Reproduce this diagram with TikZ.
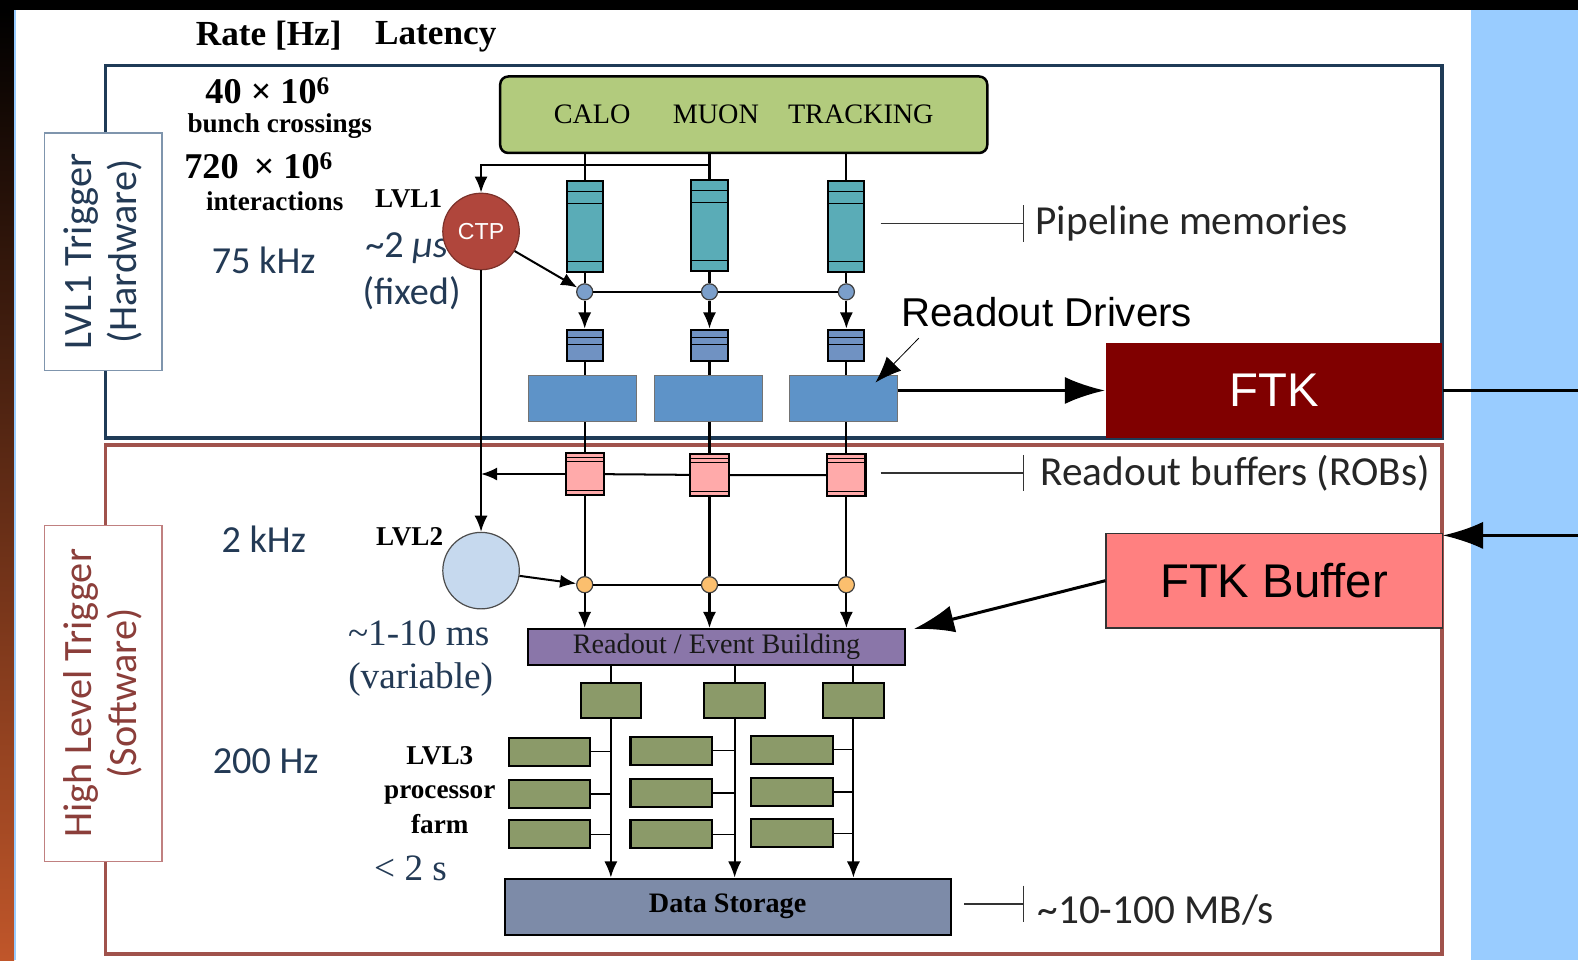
\documentclass[tikz,border=0pt]{standalone}
\usepackage{fontspec}
\setmainfont{Liberation Serif}
\newfontfamily\calfont{Carlito}
\newfontfamily\arialfont{Liberation Sans}
\usetikzlibrary{positioning,arrows.meta,calc}

\definecolor{navyframe}{RGB}{31,59,87}
\definecolor{hltframe}{RGB}{160,82,76}
\definecolor{lvlonebox}{RGB}{127,149,173}
\definecolor{hltbox}{RGB}{192,128,128}
\definecolor{hlttext}{RGB}{139,62,58}
\definecolor{navytext}{RGB}{35,58,85}
\definecolor{detgreen}{RGB}{178,203,125}
\definecolor{pipeteal}{RGB}{90,172,183}
\definecolor{nodeblue}{RGB}{123,159,203}
\definecolor{derandblue}{RGB}{112,146,194}
\definecolor{rodblue}{RGB}{94,147,200}
\definecolor{robpink}{RGB}{255,170,170}
\definecolor{nodeorange}{RGB}{251,191,110}
\definecolor{lvltwoblue}{RGB}{198,217,238}
\definecolor{ctpred}{RGB}{176,70,60}
\definecolor{ebpurple}{RGB}{138,118,169}
\definecolor{farmgreen}{RGB}{139,154,105}
\definecolor{storeslate}{RGB}{125,139,168}
\definecolor{ftkred}{RGB}{128,0,0}
\definecolor{ftkbuf}{RGB}{255,128,128}
\definecolor{stripblue}{RGB}{153,204,255}
\definecolor{edgeorange}{RGB}{192,86,42}

\begin{document}
\begin{tikzpicture}[x=1pt, y=-1pt, line width=2pt, inner sep=0pt,
  >={Latex[length=16pt,width=13pt]},
  bigarrow/.style={-{Latex[length=40pt,width=27pt]}, line width=3pt},
  sidebox/.style={rectangle, draw, fill=white, line width=1.5pt, rotate=90,
                  align=center, minimum width=#1, minimum height=117pt,
                  font=\calfont\fontsize{40}{45}\selectfont},
  detector/.style={rectangle, draw, rounded corners=8pt, line width=2.5pt,
                   fill=detgreen, minimum width=484pt, minimum height=76pt,
                   font=\fontsize{28}{32}\selectfont},
  pipemem/.style={rectangle, draw, fill=pipeteal, minimum width=36pt, minimum height=90pt,
    path picture={\draw[line width=1.2pt]
      ([yshift=-10pt]path picture bounding box.north west) -- ([yshift=-10pt]path picture bounding box.north east)
      ([yshift=-22pt]path picture bounding box.north west) -- ([yshift=-22pt]path picture bounding box.north east)
      ([yshift=10pt]path picture bounding box.south west) -- ([yshift=10pt]path picture bounding box.south east);}},
  derand/.style={rectangle, draw, fill=derandblue, minimum width=36pt, minimum height=31pt,
    path picture={\draw[line width=1.2pt]
      ([yshift=-8pt]path picture bounding box.north west) -- ([yshift=-8pt]path picture bounding box.north east)
      ([yshift=-15pt]path picture bounding box.north west) -- ([yshift=-15pt]path picture bounding box.north east);}},
  rod/.style={rectangle, draw=black!55, line width=1pt, fill=rodblue,
              minimum width=107pt, minimum height=46pt},
  rob/.style={rectangle, draw, fill=robpink, minimum width=38pt, minimum height=42pt,
    path picture={\draw[line width=1pt]
      ([yshift=-5pt]path picture bounding box.north west) -- ([yshift=-5pt]path picture bounding box.north east)
      ([yshift=-9pt]path picture bounding box.north west) -- ([yshift=-9pt]path picture bounding box.north east)
      ([yshift=5pt]path picture bounding box.south west) -- ([yshift=5pt]path picture bounding box.south east);}},
  junction/.style={circle, draw=black!75, line width=1.2pt, minimum size=16pt},
  trigger/.style={circle, line width=1.2pt, minimum size=76pt},
  eventbuild/.style={rectangle, draw, fill=ebpurple, minimum width=374pt, minimum height=36pt,
                     font=\fontsize{28}{32}\selectfont, text=black!90},
  sfi/.style={rectangle, draw, fill=farmgreen, minimum width=60pt, minimum height=35pt},
  farm/.style={rectangle, draw, fill=farmgreen, minimum width=81pt, minimum height=28pt},
  store/.style={rectangle, draw, fill=storeslate, minimum width=443pt, minimum height=56pt,
                font=\bfseries\fontsize{28}{32}\selectfont},
  ftkbox/.style={rectangle, minimum width=334pt, minimum height=94pt,
                 font=\arialfont\fontsize{47}{52}\selectfont},
  headtext/.style={font=\bfseries\fontsize{35}{40}\selectfont},
  bigrate/.style={font=\bfseries\fontsize{36}{40}\selectfont},
  smalltext/.style={font=\bfseries\fontsize{27}{34}\selectfont, align=center},
  calnote/.style={font=\calfont\fontsize{38}{44}\selectfont, text=navytext},
  serifnote/.style={font=\fontsize{37}{42}\selectfont, text=navytext},
  annotext/.style={font=\calfont\fontsize{41}{46}\selectfont, text=black!85},
  leader/.style={line width=1.6pt, black!80}
]
  \useasboundingbox (0,0) rectangle (1568,954);

  % background
  \fill[black] (0,0) rectangle (1568,10);
  \shade[top color=black, middle color={rgb,255:red,90;green,42;blue,18}, bottom color=edgeorange]
    (0,10) rectangle (14,954);
  \fill[white] (14,10) rectangle (1462,954);
  \draw[stripblue, line width=1.5pt] (14.75,10) -- (14.75,954);
  \fill[stripblue] (1462,10) rectangle (1568,954);

  % trigger level frames
  \draw[navyframe, line width=3.5pt] (105,65) rectangle (1433,435);
  \draw[hltframe, line width=3.5pt] (105,442) rectangle (1433,948);
  \node[sidebox=236pt, draw=lvlonebox, text=navytext] (lvlonelabel) at (102.5,250) {LVL1 Trigger\\(Hardware)};
  \node[sidebox=334pt, draw=hltbox, text=hlttext] (hltlabel) at (102.5,689) {High Level Trigger\\(Software)};

  % rates and latencies
  \node[headtext] (ratehdr) at (267,35) {Rate [Hz]};
  \node[headtext] (lathdr) at (433,37) {Latency};
  \node[bigrate] (bcrate) at (266,90) {40 × 10\textsuperscript{6}};
  \node[smalltext] (bclabel) at (278,125) {bunch crossings};
  \node[bigrate] (intrate) at (257,165) {720 \,× 10\textsuperscript{6}};
  \node[smalltext] (intlabel) at (273,200) {interactions};
  \node[smalltext] (lvlonetxt) at (406,197) {LVL1};
  \node[calnote] (rateone) at (262,259) {75 kHz};
  \node[calnote, anchor=west] (latone) at (362,247) {\textasciitilde2 \textit{μs}};
  \node[calnote] (latonefix) at (409,291) {(fixed)};
  \node[calnote] (ratetwo) at (262,536) {2 kHz};
  \node[smalltext] (lvltwotxt) at (407,533) {LVL2};
  \node[serifnote] (lattwo) at (416,629) {\textasciitilde1-10 ms};
  \node[serifnote] (lattwovar) at (418,675) {(variable)};
  \node[calnote] (ratethree) at (264,756) {200 Hz};
  \node[smalltext] (lvlthreetxt) at (437,785) {LVL3\\processor\\farm};
  \node[serifnote] (latthree) at (408,863) {< 2 s};

  % LVL1 chain
  \node[detector] (det) at (739,114) {CALO\hspace{42pt}MUON\hspace{29pt}TRACKING};
  \node[pipemem] (pm1) at (581,225) {};
  \node[pipemem] (pm2) at (705,224) {};
  \node[pipemem] (pm3) at (841,225) {};
  \node[trigger, fill=ctpred, draw=ctpred!70!black, text=white,
        font=\arialfont\fontsize{23}{26}\selectfont] (ctp) at (478,230) {CTP};
  \node[junction, fill=nodeblue] (jone1) at (581,290) {};
  \node[junction, fill=nodeblue] (jone2) at (705,290) {};
  \node[junction, fill=nodeblue] (jone3) at (841,290) {};
  \node[derand] (dr1) at (581,343) {};
  \node[derand] (dr2) at (705,343) {};
  \node[derand] (dr3) at (841,343) {};
  \node[rod] (rod1) at (579,396) {};
  \node[rod] (rod2) at (704,396) {};
  \node[rod] (rod3) at (838,396) {};
  \node[rob] (rob1) at (581,471) {};
  \node[rob] (rob2) at (705,472) {};
  \node[rob] (rob3) at (841,472) {};

  \coordinate (ctptap) at (705,164);
  \draw (det.south -| pm1) -- (pm1);
  \draw (det.south -| pm2) -- (pm2);
  \draw (det.south -| pm3) -- (pm3);
  \draw[->] (ctptap) -| (ctp);
  \draw[->] (ctp) -- (jone1);
  \draw (pm1) -- (jone1);
  \draw (pm2) -- (jone2);
  \draw (pm3) -- (jone3);
  \draw (jone1) -- (jone2) -- (jone3);
  \draw[->] (jone1) -- (dr1);
  \draw[->] (jone2) -- (dr2);
  \draw[->] (jone3) -- (dr3);
  \draw (dr1) -- (dr1 |- rod1.north);
  \draw (dr2) -- (dr2 |- rod2.north);
  \draw (dr3) -- (dr3 |- rod3.north);
  \draw (rob1 |- rod1.south) -- (rob1);
  \draw (rob2 |- rod2.south) -- (rob2);
  \draw (rob3 |- rod3.south) -- (rob3);
  \draw (rob3) -- (rob2) -- (rob1);
  \draw[->] (rob1) -- (rob1 -| ctp);

  % HLT chain
  \node[trigger, fill=lvltwoblue, draw=black!70] (lvltwo) at (478,567) {};
  \node[junction, fill=nodeorange] (jtwo1) at (581,581) {};
  \node[junction, fill=nodeorange] (jtwo2) at (705,581) {};
  \node[junction, fill=nodeorange] (jtwo3) at (841,581) {};
  \node[eventbuild] (eb) at (712,643) {Readout / Event Building};
  \node[sfi] (sfi1) at (607,696) {};
  \node[sfi] (sfi2) at (730,696) {};
  \node[sfi] (sfi3) at (848,696) {};
  \node[farm] (farm11) at (546,747) {};
  \node[farm] (farm12) at (546,789) {};
  \node[farm] (farm13) at (546,829) {};
  \node[farm] (farm21) at (667,746) {};
  \node[farm] (farm22) at (667,788) {};
  \node[farm] (farm23) at (667,829) {};
  \node[farm] (farm31) at (787,745) {};
  \node[farm] (farm32) at (787,787) {};
  \node[farm] (farm33) at (787,828) {};
  \node[store] (store) at (723,901) {Data Storage};

  \draw[->] (ctp) -- (lvltwo);
  \draw[->] (lvltwo) -- (jtwo1);
  \draw (rob1) -- (jtwo1);
  \draw (rob2) -- (jtwo2);
  \draw (rob3) -- (jtwo3);
  \draw (jtwo1) -- (jtwo2) -- (jtwo3);
  \draw[->] (jtwo1) -- (jtwo1 |- eb.north);
  \draw[->] (jtwo2) -- (jtwo2 |- eb.north);
  \draw[->] (jtwo3) -- (jtwo3 |- eb.north);
  \draw (eb.south -| sfi1) -- (sfi1);
  \draw (eb.south -| sfi2) -- (sfi2);
  \draw (eb.south -| sfi3) -- (sfi3);
  \draw[->] (sfi1) -- (sfi1 |- store.north);
  \draw[->] (sfi2) -- (sfi2 |- store.north);
  \draw[->] (sfi3) -- (sfi3 |- store.north);
  \draw[line width=1.2pt] (farm11) -- (farm11 -| sfi1);
  \draw[line width=1.2pt] (farm12) -- (farm12 -| sfi1);
  \draw[line width=1.2pt] (farm13) -- (farm13 -| sfi1);
  \draw[line width=1.2pt] (farm21) -- (farm21 -| sfi2);
  \draw[line width=1.2pt] (farm22) -- (farm22 -| sfi2);
  \draw[line width=1.2pt] (farm23) -- (farm23 -| sfi2);
  \draw[line width=1.2pt] (farm31) -- (farm31 -| sfi3);
  \draw[line width=1.2pt] (farm32) -- (farm32 -| sfi3);
  \draw[line width=1.2pt] (farm33) -- (farm33 -| sfi3);

  % annotations
  \coordinate (pmlead) at (875,222);
  \coordinate (pmtick) at (1017,222);
  \draw[leader] (pmlead) -- (pmtick) ([yshift=18pt]pmtick) -- ([yshift=-18pt]pmtick);
  \node[annotext, right=11pt of pmtick] (pmtext) {Pipeline memories};
  \coordinate (roblead) at (875,470);
  \coordinate (robtick) at (1017,470);
  \draw[leader] (roblead) -- (robtick) ([yshift=18pt]robtick) -- ([yshift=-18pt]robtick);
  \node[annotext, right=16pt of robtick] (robtext) {Readout buffers (ROBs)};
  \coordinate (storelead) at (958,898);
  \coordinate (storetick) at (1017,898);
  \draw[leader] (storelead) -- (storetick) ([yshift=18pt]storetick) -- ([yshift=-18pt]storetick);
  \node[annotext, right=13pt of storetick, yshift=-6pt] (storetext) {\textasciitilde10-100 MB/s};

  \node[font=\arialfont\fontsize{40}{46}\selectfont] (rodtext) at (1040,310) {Readout Drivers};
  \coordinate (rodlead) at (913,336);
  \coordinate (rodtip) at (870,380);
  \draw[-{Latex[length=26pt,width=20pt]}, line width=0.8pt] (rodlead) -- (rodtip);

  % FTK
  \node[ftkbox, fill=ftkred, text=white] (ftk) at (1266,388) {FTK};
  \node[ftkbox, fill=ftkbuf, draw=black!80, line width=1.2pt] (ftkbuffer) at (1266,577) {FTK Buffer};
  \coordinate (ftkout) at (1568,388);
  \coordinate (bufin) at (1568,532);
  \coordinate (ebtip) at (908,625);
  \draw[bigarrow] (ftk.west -| rod3.east) -- (ftk.west);
  \draw[line width=3pt] (ftk.east) -- (ftkout);
  \draw[bigarrow] (bufin) -- (bufin -| ftkbuffer.east);
  \draw[bigarrow] (ftkbuffer.west) -- (ebtip);
\end{tikzpicture}
\end{document}
